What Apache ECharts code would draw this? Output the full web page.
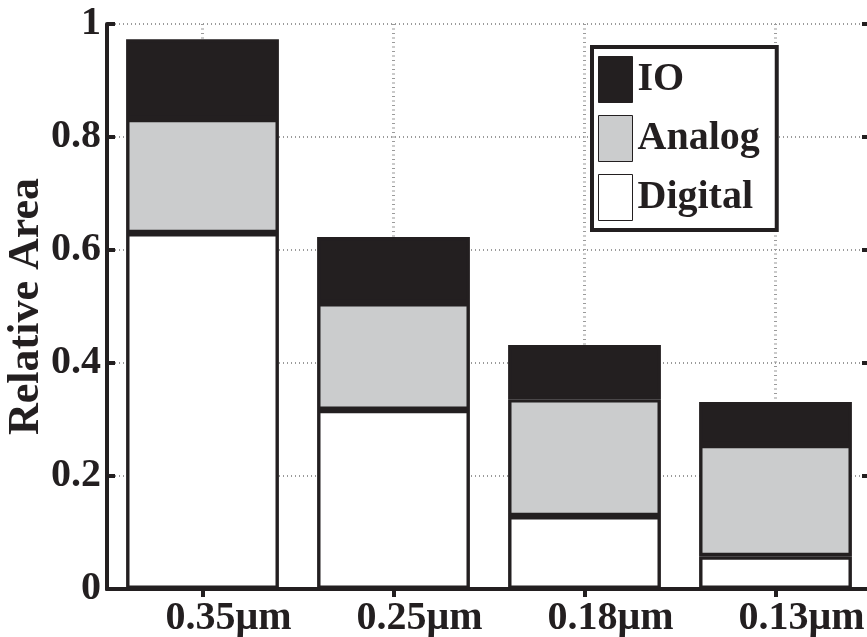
<!DOCTYPE html>
<html><head><meta charset="utf-8">
<script src="https://cdn.jsdelivr.net/npm/echarts@6/dist/echarts.min.js"></script>
<style>html,body{margin:0;padding:0;background:#fff}#c{width:867px;height:637px}</style>
</head><body><div id="c"></div>
<script>
const categories = ['0.35μm', '0.25μm', '0.18μm', '0.13μm'];
const digital = [0.630, 0.317, 0.129, 0.058];
const analog = [0.202, 0.189, 0.207, 0.197];
const io = [0.141, 0.117, 0.096, 0.076];
const yTicks = [0, 0.2, 0.4, 0.6, 0.8, 1];

const FONT = "'Liberation Serif', 'Times New Roman', serif";
const INK = '#231f20';
const BW = 3.4;
const axisLine = { show: true, lineStyle: { color: INK, width: 4 } };
const tick = { show: true, inside: true, length: 8, lineStyle: { color: INK, width: 4 } };
const grid = { show: true, lineStyle: { color: '#9a9a9a', width: 2, type: [1, 3] } };

const chart = echarts.init(document.getElementById('c'), null, { renderer: 'canvas' });
const barBase = { type: 'bar', stack: 'total', barWidth: '80%' };
chart.setOption({
  animation: false,
  backgroundColor: '#fff',
  grid: { left: 107, top: 24, width: 764, height: 565, containLabel: false, outerBoundsMode: 'none' },
  legend: {
    data: ['IO', 'Analog', 'Digital'],
    orient: 'vertical', left: 592, top: 47,
    itemWidth: 34, itemHeight: 46, itemGap: 12,
    padding: [9, 17, 9, 6],
    borderColor: INK, borderWidth: 4, backgroundColor: '#fff',
    icon: 'rect',
    itemStyle: { borderWidth: 1, borderColor: INK },
    textStyle: { fontFamily: FONT, fontWeight: 'bold', fontSize: 40, color: INK }
  },
  xAxis: [{
    type: 'category', data: categories, position: 'bottom',
    axisLine, axisTick: Object.assign({ alignWithLabel: true }, tick),
    axisLabel: { fontFamily: FONT, fontWeight: 'bold', fontSize: 40, color: INK, margin: 10, padding: [0, 0, 0, 52] },
    splitLine: { show: true, alignWithLabel: true, lineStyle: { color: '#9a9a9a', width: 3, type: [1, 3.5] } }
  }, {
    type: 'category', data: categories, position: 'top',
    axisLine, axisTick: Object.assign({ alignWithLabel: true }, tick),
    axisLabel: { show: false }, splitLine: { show: false }
  }],
  yAxis: [{
    type: 'value', min: yTicks[0], max: yTicks[yTicks.length - 1], interval: 0.2,
    name: 'Relative Area', nameLocation: 'middle', nameGap: 58, nameMoveOverlap: false,
    nameTextStyle: { fontFamily: FONT, fontWeight: 'bold', fontSize: 44, color: INK },
    axisLine, axisTick: tick,
    axisLabel: { fontFamily: FONT, fontWeight: 'bold', fontSize: 40, color: INK, margin: 6,
      formatter: v => String(+v.toFixed(1)) },
    splitLine: grid
  }, {
    type: 'value', position: 'right', min: yTicks[0], max: yTicks[yTicks.length - 1], interval: 0.2,
    axisLine, axisTick: Object.assign({}, tick, { length: 9 }), axisLabel: { show: false }, splitLine: { show: false }
  }],
  series: [
    Object.assign({}, barBase, { name: 'Digital', data: digital, itemStyle: { color: '#ffffff', borderColor: INK, borderWidth: BW } }),
    Object.assign({}, barBase, { name: 'Analog', data: analog, itemStyle: { color: '#cbcccd', borderColor: INK, borderWidth: BW } }),
    Object.assign({}, barBase, { name: 'IO', data: io, itemStyle: { color: INK, borderColor: INK, borderWidth: BW } })
  ]
});
</script></body></html>
